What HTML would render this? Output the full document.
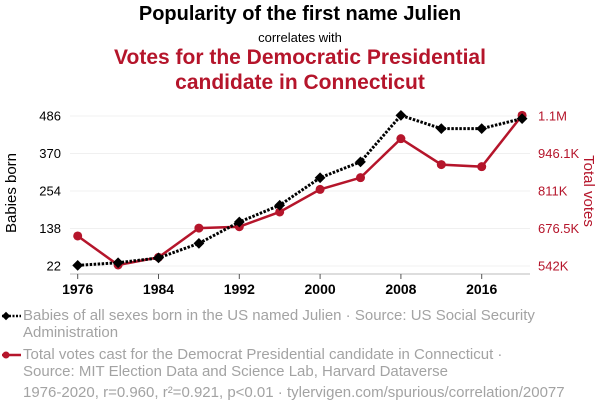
<!DOCTYPE html>
<html><head><meta charset="utf-8"><style>
body{margin:0;background:#fff;width:600px;height:414px;overflow:hidden;font-family:"Liberation Sans",sans-serif}
svg text{font-family:"Liberation Sans",sans-serif}
.leg{position:absolute;left:23px;font-size:15px;line-height:17px;color:#a3a3a3;width:575px}
</style></head><body>
<svg width="600" height="414" style="position:absolute;left:0;top:0">
<text x="300" y="20" text-anchor="middle" font-size="20" font-weight="bold" fill="#000">Popularity of the first name Julien</text>
<text x="300" y="42" text-anchor="middle" font-size="13" fill="#000">correlates with</text>
<text x="300" y="64" text-anchor="middle" font-size="21" font-weight="bold" fill="#b5152b">Votes for the Democratic Presidential</text>
<text x="300" y="89" text-anchor="middle" font-size="21" font-weight="bold" fill="#b5152b">candidate in Connecticut</text>
<g id="grid"></g><g id="axes"></g><g id="series"></g>
<text transform="translate(16,193) rotate(-90)" text-anchor="middle" font-size="15" fill="#000">Babies born</text>
<text transform="translate(584,191) rotate(90)" text-anchor="middle" font-size="15" fill="#b5152b">Total votes</text>
<g>
<line x1="2" y1="316" x2="21" y2="316" stroke="#000" stroke-width="2.5" stroke-dasharray="2,1.5"/>
<rect x="3" y="313" width="6" height="6" fill="#000" transform="rotate(45 6 316)"/></g>
<g>
<line x1="2" y1="355" x2="21" y2="355" stroke="#b5152b" stroke-width="2.5"/>
<circle cx="6" cy="355" r="3.5" fill="#b5152b"/></g>
</svg>
<div class="leg" style="top:307px">Babies of all sexes born in the US named Julien · Source: US Social Security<br>Administration</div>
<div class="leg" style="top:346px">Total votes cast for the Democrat Presidential candidate in Connecticut ·<br>Source: MIT Election Data and Science Lab, Harvard Dataverse</div>
<div class="leg" style="top:384px">1976-2020, r=0.960, r²=0.921, p&lt;0.01 · tylervigen.com/spurious/correlation/20077</div>
<script>
const years=[1976,1980,1984,1988,1992,1996,2000,2004,2008,2012,2016,2020];
const babies=[24,32,47,92,158,210,295,344,488,447,447,478];
const votes=[649700,545600,573000,678000,683000,736000,817000,859000,999000,906000,898500,1082800];
const xTicks=[1976,1984,1992,2000,2008,2016];
const leftTicks=[22,138,254,370,486];
const rightTickVals=[542000,676500,811000,946100,1080400];
const rightTickLabels=["542K","676.5K","811K","946.1K","1.1M"];
const NS="http://www.w3.org/2000/svg";
const x=v=>77.7+(v-1976)*10.1;
const yL=v=>266-(v-22)/464*150;
const yR=v=>266-(v-542000)/538400*150;
function mk(t,a,p){const e=document.createElementNS(NS,t);for(const k in a)e.setAttribute(k,a[k]);p.appendChild(e);return e;}
const grid=document.getElementById('grid'),axes=document.getElementById('axes'),ser=document.getElementById('series');
leftTicks.forEach((v,i)=>{
 const g=mk('line',{x1:70,x2:530,y1:yL(v),y2:yL(v),stroke:'#f0f0f0','stroke-width':1},grid);
 
 
 const t=mk('text',{x:61,y:yL(v)+4.5,'text-anchor':'end','font-size':13,fill:'#000'},axes);t.textContent=v;
 
 
});
rightTickVals.forEach((v,i)=>{
 const t=mk('text',{x:538,y:yR(v)+4.5,'font-size':13,fill:'#b5152b'},axes);t.textContent=rightTickLabels[i];
 
 
});
const ax=mk('line',{x1:70,x2:530,y1:274,y2:274,stroke:'#bbb','stroke-width':1},axes);


xTicks.forEach(v=>{
 const l=mk('line',{x1:x(v),x2:x(v),y1:274,y2:279,stroke:'#555'},axes);
 
 
 const t=mk('text',{x:x(v),y:294,'text-anchor':'middle','font-size':14,'font-weight':'bold',fill:'#000'},axes);t.textContent=v;
 
 
});
const vl=mk('polyline',{points:years.map((y,i)=>x(y)+','+yR(votes[i])).join(' '),fill:'none',stroke:'#b5152b','stroke-width':2.5},ser);


years.forEach((y,i)=>{const c=mk('circle',{cx:x(y),cy:yR(votes[i]),r:4.5,fill:'#b5152b'},ser);
 
 });
const bl=mk('polyline',{points:years.map((y,i)=>x(y)+','+yL(babies[i])).join(' '),fill:'none',stroke:'#000','stroke-width':3,'stroke-dasharray':'2.5,1.5'},ser);


years.forEach((y,i)=>{const cx=x(y),cy=yL(babies[i]);
 const r=mk('rect',{x:cx-3.8,y:cy-3.8,width:7.6,height:7.6,fill:'#000',transform:`rotate(45 ${cx} ${cy})`},ser);
 
 });
</script>
</body></html>
